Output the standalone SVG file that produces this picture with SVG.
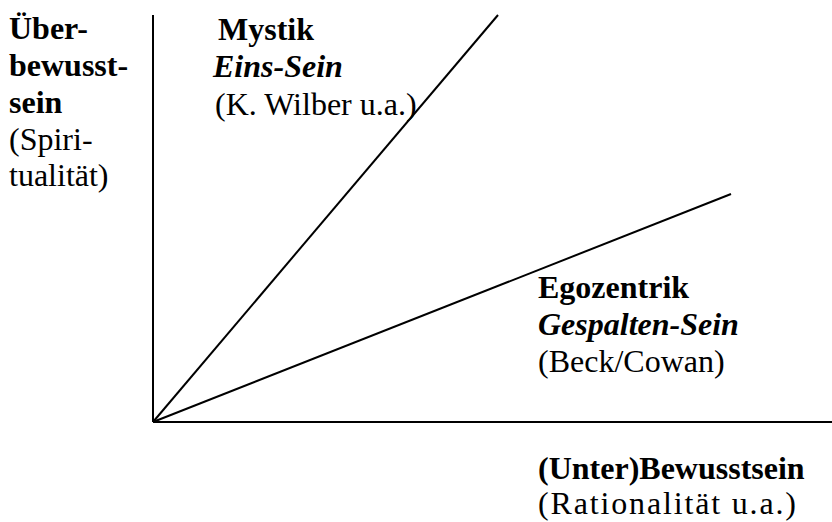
<svg xmlns="http://www.w3.org/2000/svg" width="832" height="522" viewBox="0 0 832 522">
<style>
text{font-family:"Liberation Serif","Times New Roman",serif;font-size:32px;fill:#000}
.b{font-weight:bold}
.bi{font-weight:bold;font-style:italic}
line{stroke:#000;stroke-width:2;fill:none}
</style>
<rect width="832" height="522" fill="#fff"/>
<g id="connectors">
<line x1="153" y1="15" x2="153" y2="422"/>
<line x1="153" y1="422" x2="832" y2="422"/>
<line x1="153" y1="422" x2="498" y2="15"/>
<line x1="153" y1="422" x2="731" y2="194"/>
</g>
<g id="y-axis-label">
<text class="b" x="9" y="39">Über-</text>
<text class="b" x="9" y="76">bewusst-</text>
<text class="b" x="9" y="113">sein</text>
<text x="9" y="150">(Spiri-</text>
<text x="9" y="186">tualität)</text>
</g>
<g id="mystik">
<text class="b" x="218" y="40">Mystik</text>
<text class="bi" x="213" y="77">Eins-Sein</text>
<text x="215" y="115">(K. Wilber u.a.)</text>
</g>
<g id="egozentrik">
<text class="b" x="538" y="298">Egozentrik</text>
<text class="bi" x="538" y="335">Gespalten-Sein</text>
<text x="538" y="372">(Beck/Cowan)</text>
</g>
<g id="x-axis-label">
<text class="b" x="538" y="479">(Unter)Bewusstsein</text>
<text x="538" y="514" textLength="258" lengthAdjust="spacing">(Rationalität u.a.)</text>
</g>
</svg>
